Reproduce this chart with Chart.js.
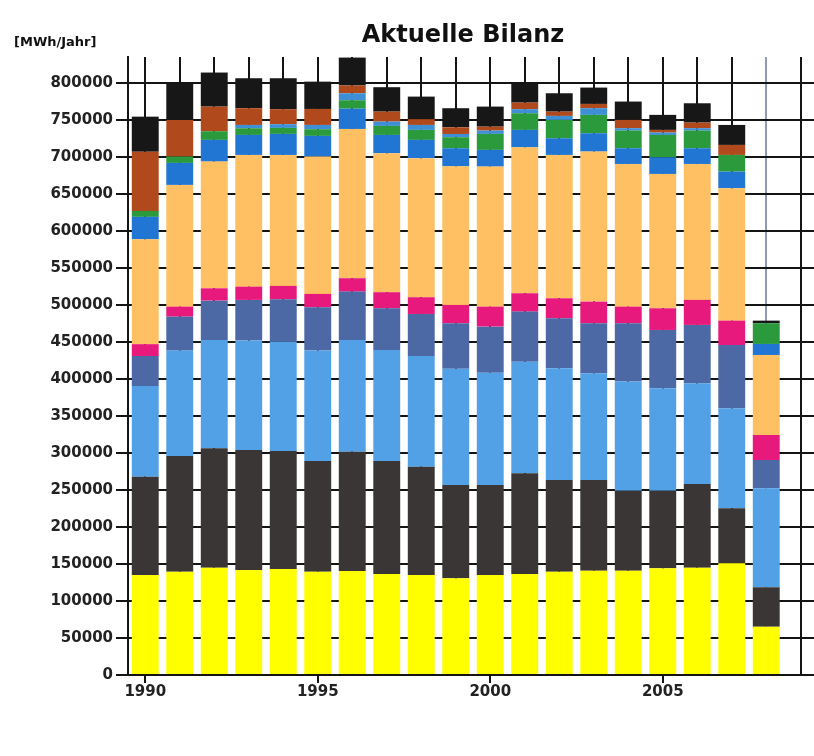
<!DOCTYPE html>
<html>
<head>
<meta charset="utf-8">
<title>Aktuelle Bilanz</title>
<script src="https://cdn.jsdelivr.net/npm/chart.js@4.4.1/dist/chart.umd.min.js"></script>
<style>
  html, body { margin: 0; padding: 0; background: #fff; overflow: hidden; }
  #wrap { position: relative; width: 814px; height: 756px; overflow: hidden; }
  #title { position: absolute; left: 263px; width: 400px; top: 20px; text-align: center;
           font: bold 24px "DejaVu Sans", sans-serif; color: #111; }
  #unit { position: absolute; left: 14px; top: 34px; font: bold 13px "DejaVu Sans", sans-serif; color: #111; }
  #chart { position: absolute; left: 0; top: 0; }
</style>
</head>
<body>
<div id="wrap">
  <canvas id="chart" width="818" height="756"></canvas>
  <div id="title">Aktuelle Bilanz</div>
  <div id="unit">[MWh/Jahr]</div>
</div>
<script>
// categories (2009 is an empty slot at the right edge)
const years = [1990, 1991, 1992, 1993, 1994, 1995, 1996, 1997, 1998, 1999,
               2000, 2001, 2002, 2003, 2004, 2005, 2006, 2007, 2008, 2009];

// y tick values
const yTicks = [0, 50000, 100000, 150000, 200000, 250000, 300000, 350000, 400000,
                450000, 500000, 550000, 600000, 650000, 700000, 750000, 800000];

// stacked series, bottom to top (MWh/Jahr)
const yellowVals = [135000, 139600, 145000, 141900, 143200, 139600, 140500, 136500, 135100, 130700, 135100, 136500, 139600, 141000, 141000, 144100, 145000, 150900, 65300];
const grayVals   = [133000, 156400, 161300, 162100, 159500, 149600, 161300, 152700, 146400, 126100, 121700, 136000, 123900, 122500, 108100, 105000, 113100, 74400, 53200];
const skyVals    = [122500, 142300, 146400, 147800, 147700, 149100, 150900, 150000, 149600, 157000, 151700, 150900, 151000, 144200, 147300, 138300, 136100, 135100, 133800];
const slateVals  = [40500, 45900, 53100, 55000, 57300, 58600, 65300, 56300, 56700, 61500, 62200, 67600, 67500, 67600, 78900, 78800, 78800, 85500, 38200];
const pinkVals   = [16000, 13500, 16700, 17900, 18000, 18000, 18100, 21700, 22600, 24700, 27000, 24800, 27000, 29200, 22400, 29300, 33800, 32900, 33800];
const orangeVals = [141700, 164500, 171200, 178000, 177000, 185500, 201700, 187800, 187800, 187300, 189200, 197200, 193700, 202700, 192800, 181500, 183700, 178900, 108100];
const blueVals   = [30300, 29700, 29300, 27000, 28400, 28000, 27500, 24700, 24800, 24400, 22600, 23500, 22500, 24800, 21200, 22500, 21200, 22400, 14900];
const greenVals  = [8000, 8600, 11700, 9000, 8100, 9000, 11300, 12200, 13500, 14900, 21600, 22500, 24800, 24800, 23900, 30200, 23900, 22600, 28000];
const blue2Vals  = [0, 0, 0, 4500, 5000, 5800, 9400, 5800, 6700, 4400, 4500, 5500, 5400, 9000, 3200, 3200, 3200, 0, 0];
const brownVals  = [80000, 49500, 33300, 22600, 20300, 21600, 10600, 13500, 7800, 9000, 5300, 8900, 5800, 5800, 11200, 3600, 7600, 13500, 0];
const blackVals  = [47400, 49600, 46000, 40500, 41800, 36900, 37600, 33000, 30500, 25800, 27100, 26200, 24800, 22100, 24800, 20300, 26100, 27000, 3500];

const yMax = 835000;

const series = [
    { data: yellowVals, color: '#ffff00' },
    { data: grayVals,   color: '#3b3636' },
    { data: skyVals,    color: '#52a1e6' },
    { data: slateVals,  color: '#4c69a6' },
    { data: pinkVals,   color: '#e8197c' },
    { data: orangeVals, color: '#fec062' },
    { data: blueVals,   color: '#2276d3' },
    { data: greenVals,  color: '#2b9a3d' },
    { data: blue2Vals,  color: '#3f8fd6' },
    { data: brownVals,  color: '#b0491c' },
    { data: blackVals,  color: '#171717' }
];

const lineColor = '#141414';

const ctx = document.getElementById('chart').getContext('2d');
const chart = new Chart(ctx, {
    type: 'bar',
    data: {
        labels: years,
        datasets: series.map(s => ({
            data: s.data,
            backgroundColor: s.color,
            borderWidth: 0,
            barPercentage: 0.78,
            categoryPercentage: 1
        }))
    },
    options: {
        responsive: false,
        animation: false,
        layout: { padding: { top: 57, right: 0, bottom: 51, left: 0 } },
        plugins: {
            legend: { display: false },
            title: { display: false },
            tooltip: { enabled: true }
        },
        scales: {
            x: {
                stacked: true,
                afterFit: function(scale) { scale.height = 30; },
                grid: {
                    offset: false,
                    lineWidth: 2,
                    color: c => (c.index === 18 ? '#8f9bb2' : lineColor),
                    tickColor: c => (c.index % 5 === 0 ? lineColor : 'rgba(0,0,0,0)'),
                    tickLength: 8,
                    tickWidth: 2
                },
                border: { display: true, color: lineColor, width: 2 },
                ticks: {
                    autoSkip: false,
                    maxRotation: 0,
                    padding: 0,
                    color: '#222',
                    font: { family: 'DejaVu Sans', size: 15, weight: 'bold' },
                    callback: function(v, i) { return years[i] % 5 === 0 ? String(years[i]) : ''; }
                }
            },
            y: {
                stacked: true,
                min: 0,
                max: yMax,
                afterFit: function(scale) { scale.width = 128; },
                afterBuildTicks: function(scale) {
                    scale.ticks = yTicks.map(v => ({ value: v }));
                },
                grid: {
                    lineWidth: 2,
                    color: lineColor,
                    tickLength: 12,
                    tickWidth: 2
                },
                border: { display: true, color: lineColor, width: 2 },
                ticks: {
                    padding: 3,
                    color: '#222',
                    font: { family: 'DejaVu Sans', size: 15, weight: 'bold' },
                    callback: function(v) { return String(v); }
                }
            }
        }
    }
});
</script>
</body>
</html>
